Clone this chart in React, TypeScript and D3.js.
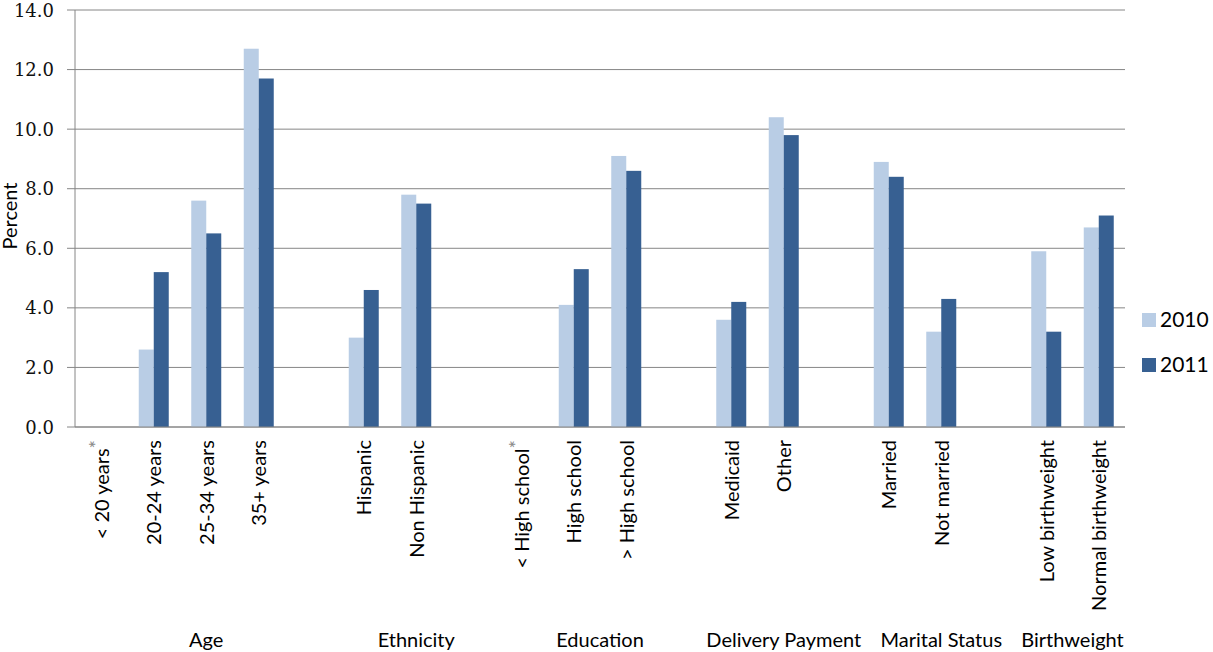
import React from "react";
import * as d3 from "d3";

const categories = ["< 20 years", "20-24 years", "25-34 years", "35+ years", "", "Hispanic", "Non Hispanic", "", "< High school", "High school", "> High school", "", "Medicaid", "Other", "", "Married", "Not married", "", "Low birthweight", "Normal birthweight"];
const footnoted = ["< 20 years", "< High school"];
const series = ["2010", "2011"];
const values2010: (number | null)[] = [null, 2.6, 7.6, 12.7, null, 3.0, 7.8, null, null, 4.1, 9.1, null, 3.6, 10.4, null, 8.9, 3.2, null, 5.9, 6.7];
const values2011: (number | null)[] = [null, 5.2, 6.5, 11.7, null, 4.6, 7.5, null, null, 5.3, 8.6, null, 4.2, 9.8, null, 8.4, 4.3, null, 3.2, 7.1];
const groupNames = ["Age", "Ethnicity", "Education", "Delivery Payment", "Marital Status", "Birthweight"];
const groupSpans = [5, 3, 4, 3, 3, 2];
const yTicks = [0, 2, 4, 6, 8, 10, 12, 14];
const colors = ["#B9CDE5", "#376092"];

const W = 1213, H = 652;
const FONT = "Lato, 'Open Sans', sans-serif";
const TICKFONT = "'DejaVu Serif', serif";

export default function App() {
  const x = d3.scaleBand<number>().domain(d3.range(categories.length)).range([75, 1125]).paddingInner(1 - 30 / 52.5).paddingOuter((1 - 30 / 52.5) / 2);
  const xs = d3.scaleBand<string>().domain(series).range([0, x.bandwidth()]);
  const y = d3.scaleLinear().domain([0, 14]).range([427, 10]);
  const step = x.step();
  const data = [values2010, values2011];

  let acc = 0;
  const groups = groupNames.map((g, i) => {
    const start = acc;
    acc += groupSpans[i];
    return { name: g, x0: x.range()[0] + start * step, x1: x.range()[0] + acc * step };
  });

  return (
    <svg width={W} height={H} style={{ position: "fixed", left: 0, top: 0, background: "#fff" }} fontFamily={FONT}>
      {yTicks.map((t) => (
        <g key={t}>
          <line x1={67} x2={1125} y1={y(t)} y2={y(t)} stroke="#868686" strokeWidth={1} />
          <text x={54} y={y(t) + 6.5} textAnchor="end" fontSize={18} fontFamily={TICKFONT} fill="#111">{t.toFixed(1)}</text>
        </g>
      ))}
      <line x1={75} x2={75} y1={y(14)} y2={y(0)} stroke="#868686" strokeWidth={1} />
      {data.map((vals, si) =>
        vals.map((v, i) =>
          v == null ? null : (
            <rect key={si + "-" + i} x={(x(i) as number) + (xs(series[si]) as number)} y={y(v)} width={xs.bandwidth()} height={y(0) - y(v)} fill={colors[si]} />
          )
        )
      )}
      <line x1={75} x2={1125} y1={y(0)} y2={y(0)} stroke="#868686" strokeWidth={1} />
      {categories.map((c, i) => {
        if (!c) return null;
        const cx = (x(i) as number) + x.bandwidth() / 2 + 7.5;
        return (
          <text key={i} transform={`translate(${cx},440) rotate(-90)`} textAnchor="end" fontSize={20} fill="#000">
            {c}
            {footnoted.includes(c) ? <tspan fill="#8a8a8a" fontSize={20} dy={-6}>*</tspan> : null}
          </text>
        );
      })}
      {groups.map((g) => (
        <text key={g.name} x={(g.x0 + g.x1) / 2} y={647} textAnchor="middle" fontSize={20} fill="#000">{g.name}</text>
      ))}
      <text transform={`translate(17,216) rotate(-90)`} textAnchor="middle" fontSize={20} fill="#000">Percent</text>
      {series.map((s, i) => (
        <g key={s}>
          <rect x={1142} y={313 + i * 45} width={14} height={14} fill={colors[i]} />
          <text x={1160} y={327 + i * 45} fontSize={21} fill="#000">{s}</text>
        </g>
      ))}
    </svg>
  );
}
